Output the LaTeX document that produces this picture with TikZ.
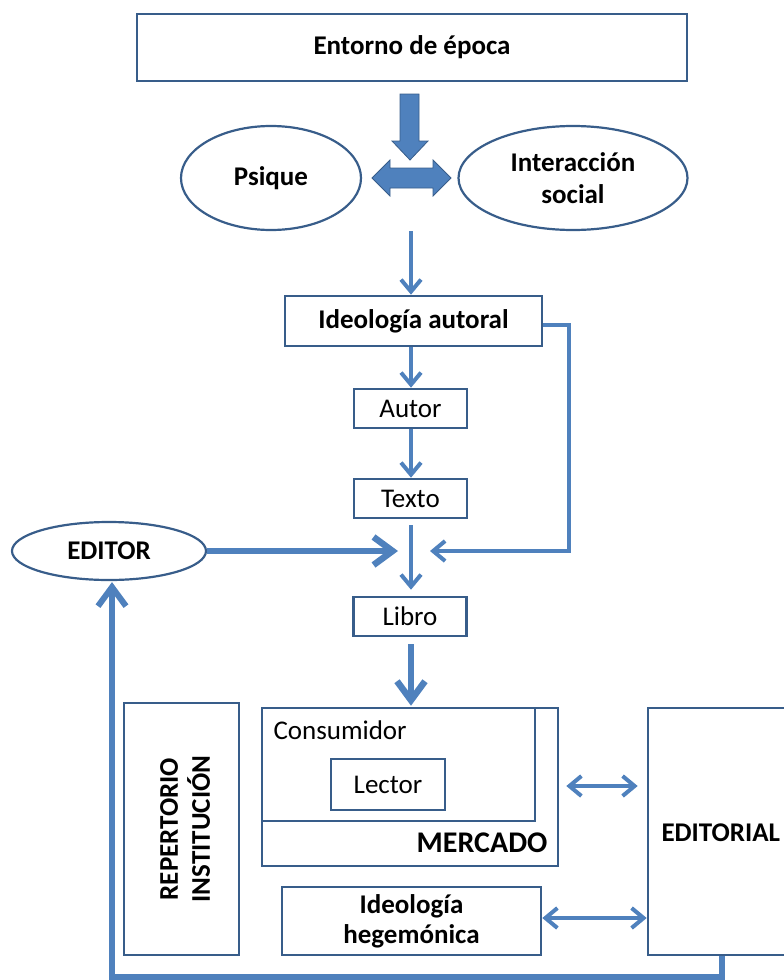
\documentclass[tikz,border=0pt]{standalone}
\usepackage{fontspec}
\setmainfont{Carlito}
\usetikzlibrary{arrows.meta,shapes.geometric}
\definecolor{bl}{RGB}{79,129,189}
\definecolor{bd}{RGB}{56,93,138}
\begin{document}
\begin{tikzpicture}[x=1pt,y=-1pt,
  font=\fontsize{27}{32}\selectfont,
  bfnt/.style={font=\fontsize{27}{32}\selectfont\bfseries},
  box/.style={draw=bd,line width=2.6pt,fill=white,inner sep=0pt,align=center},
  ell/.style={ellipse,draw=bd,line width=2.2pt,inner sep=0pt,align=center,bfnt},
  thinarr/.style={draw=bl,line width=4pt,-{Straight Barb[length=12pt,width=20pt,line width=4pt]}},
  dblarr/.style={draw=bl,line width=4pt,{Straight Barb[length=12pt,width=20pt,line width=4pt]}-{Straight Barb[length=12pt,width=20pt,line width=4pt]}},
  thickarr/.style={draw=bl,line width=6.5pt,-{Straight Barb[length=19pt,width=28pt,line width=6.5pt]}},
  blockarr/.style={fill=bl,draw=bd,line width=0.8pt}]
\useasboundingbox (0,0) rectangle (784,980);
% top
\node[box,minimum width=550,minimum height=67,bfnt] (ent) at (412,47.5) {Entorno de época};
\node[ell,minimum width=180,minimum height=104] (psi) at (271,178) {\raisebox{-3pt}{Psique}};
\node[ell,minimum width=229,minimum height=104] (int) at (573,178) {Interacción\\social};
\draw[blockarr] (400,94) -- (419,94) -- (419,141) -- (428,141) -- (410,160) -- (392,141) -- (400,141) -- cycle;
\draw[blockarr] (372,178) -- (390,160) -- (390,168) -- (433,168) -- (433,160) -- (451,178) -- (433,196) -- (433,188) -- (390,188) -- (390,196) -- cycle;
% chain
\node[box,minimum width=257,minimum height=50,bfnt] (ia) at (413.5,321) {Ideología autoral};
\node[box,minimum width=113,minimum height=39] (aut) at (410.5,408.5) {Autor};
\node[box,minimum width=113,minimum height=39] (tex) at (410.5,498.5) {Texto};
\node[box,minimum width=113,minimum height=39] (lib) at (410,616.5) {Libro};
\node[ell,minimum width=194,minimum height=58] (edr) at (109,551) {EDITOR};
\coordinate (c1) at (411,231);
\coordinate (cm) at (411,551);
\draw[thinarr] (c1) -- (c1 |- ia.north);
\draw[thinarr] (c1 |- ia.south) -- (c1 |- aut.north);
\draw[thinarr] (c1 |- aut.south) -- (c1 |- tex.north);
\draw[thinarr,shorten >=6pt] ([yshift=-6pt]c1 |- tex.south) -- (c1 |- lib.north);
\draw[thinarr] (ia.east |- 0,325) -- (569,325) |- ([xshift=19pt]cm);
\draw[thickarr] (edr.east) -- ([xshift=-13pt]cm);
% bottom
\node[box,minimum width=115,minimum height=252] (rep) at (181.5,829) {};
\node[rotate=90,align=center,bfnt] (reptx) at (185,829) {REPERTORIO\\INSTITUCIÓN};
\node[box,minimum width=296,minimum height=158] (mer) at (410,787) {};
\node[box,minimum width=273,minimum height=113] (con) at (398.5,764.5) {};
\node[anchor=west] (contx) at (270,730) {Consumidor};
\node[box,minimum width=114,minimum height=51] (lec) at (388,784.5) {Lector};
\node[anchor=east,font=\fontsize{30}{32}\selectfont\bfseries] (mertx) at (551,843) {MERCADO};
\node[box,minimum width=259,minimum height=68,font=\fontsize{27}{30}\selectfont\bfseries] (heg) at (411.5,921) {Ideología\\hegemónica};
\node[box,minimum width=152,minimum height=247] (edl) at (724,831.5) {};
\node[anchor=west,bfnt] (edltx) at (658,833) {EDITORIAL};
\draw[thickarr,shorten >=1pt] ([yshift=-7pt]c1 |- lib.south) -- (c1 |- mer.north);
\draw[dblarr] ([xshift=7pt]mer.east |- 0,786) -- ([xshift=-9pt]edl.west |- 0,786);
\draw[dblarr] (heg.east |- 0,918) -- (edl.west |- 0,918);
\coordinate (bl) at (112,977);
\draw[draw=bl,line width=5.5pt,-{Straight Barb[length=19pt,width=28pt,line width=6pt]},shorten >=1pt] (edl.south -| 722,0) |- (bl) -- (bl |- edr.south);
\end{tikzpicture}
\end{document}
